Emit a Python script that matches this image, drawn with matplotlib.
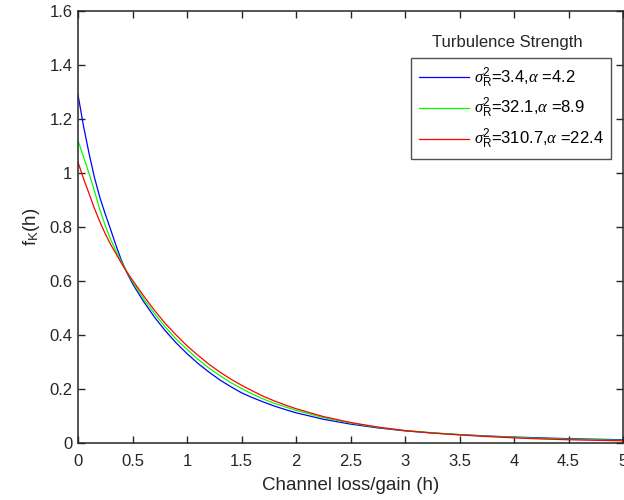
import matplotlib
matplotlib.use("Agg")
import matplotlib.pyplot as plt

plt.rcParams['font.family'] = ['Liberation Sans', 'DejaVu Sans']
plt.rcParams['mathtext.fontset'] = 'custom'
plt.rcParams['mathtext.rm'] = 'Liberation Sans'
plt.rcParams['mathtext.it'] = 'Liberation Serif:italic'

# values
h = [0, 0.05, 0.1, 0.15, 0.2, 0.25, 0.3, 0.35, 0.4, 0.45, 0.5,
     0.6, 0.7, 0.8, 0.9, 1.0, 1.1, 1.2, 1.3, 1.4, 1.5, 1.6, 1.7, 1.8, 1.9, 2.0,
     2.25, 2.5, 2.75, 3.0, 3.25, 3.5, 3.75, 4.0, 4.25, 4.5, 4.75, 5.0]
f_weak = [1.29, 1.175, 1.075, 0.985, 0.91, 0.848, 0.79, 0.73, 0.675, 0.63, 0.59,
          0.525, 0.467, 0.416, 0.371, 0.331, 0.295, 0.263, 0.234, 0.209, 0.186,
          0.168, 0.152, 0.137, 0.124, 0.112,
          0.088, 0.070, 0.056, 0.045, 0.037, 0.031, 0.026, 0.022, 0.019, 0.016,
          0.014, 0.012]
f_mod = [1.12, 1.06, 1.0, 0.935, 0.865, 0.805, 0.753, 0.71, 0.67, 0.633, 0.597,
         0.535, 0.48, 0.43, 0.385, 0.347, 0.31, 0.278, 0.25, 0.224, 0.202,
         0.181, 0.163, 0.147, 0.134, 0.121,
         0.094, 0.074, 0.058, 0.046, 0.038, 0.031, 0.025, 0.021, 0.017, 0.014,
         0.012, 0.010]
f_strong = [1.04, 0.98, 0.925, 0.87, 0.82, 0.775, 0.735, 0.70, 0.665, 0.632,
            0.603, 0.546, 0.492, 0.443, 0.40, 0.36, 0.325, 0.292, 0.263, 0.237,
            0.214, 0.193, 0.173, 0.156, 0.141, 0.127,
            0.098, 0.076, 0.059, 0.046, 0.037, 0.030, 0.024, 0.019, 0.015,
            0.012, 0.010, 0.008]
labels = [r'$\sigma^2_{\rm R}$=3.4,$\alpha$ =4.2',
          r'$\sigma^2_{\rm R}$=32.1,$\alpha$ =8.9',
          r'$\sigma^2_{\rm R}$=310.7,$\alpha$ =22.4']
colors = ['#0000ff', '#00ff00', '#ff0000']

fig = plt.figure(figsize=(6.24, 5.0), dpi=100)
ax = fig.add_axes([78/624, 57/500, 545/624, 432/500])

for y, c, lab in zip([f_weak, f_mod, f_strong], colors, labels):
    ax.plot(h, y, color=c, lw=0.9, label=lab)

ax.set_xlim(0, 5)
ax.set_ylim(0, 1.6)
ax.set_xticks([0, 0.5, 1, 1.5, 2, 2.5, 3, 3.5, 4, 4.5, 5])
ax.set_xticklabels(['0', '0.5', '1', '1.5', '2', '2.5', '3', '3.5', '4', '4.5', '5'])
ax.set_yticks([0, 0.2, 0.4, 0.6, 0.8, 1, 1.2, 1.4, 1.6])
ax.set_yticklabels(['0', '0.2', '0.4', '0.6', '0.8', '1', '1.2', '1.4', '1.6'])
ax.tick_params(direction='in', top=True, right=True, length=5, width=1,
               labelsize=12, colors='#262626')
ax.tick_params(axis='x', pad=8)
ax.tick_params(axis='y', pad=4)
for s in ax.spines.values():
    s.set_linewidth(1.1)
    s.set_color('#262626')

ax.set_xlabel('Channel loss/gain (h)', fontsize=13.5, color='#262626', labelpad=6)
ax.set_ylabel(r'f$_{\rm K}$(h)', fontsize=13.5, color='#262626', labelpad=5)

leg = ax.legend(loc='upper left', bbox_to_anchor=((411-78)/545, (443-58)/432),
                borderaxespad=0, fancybox=False, fontsize=12,
                handlelength=3.0, labelspacing=0.4, borderpad=0.45,
                handletextpad=0.3)
leg.get_frame().set_edgecolor('#262626')
leg.get_frame().set_linewidth(1.0)
ax.text((507-78)/545, (443-43)/432, 'Turbulence Strength', transform=ax.transAxes,
        ha='center', va='center', fontsize=12, color='#262626')

fig.savefig('out.png', dpi=100)
